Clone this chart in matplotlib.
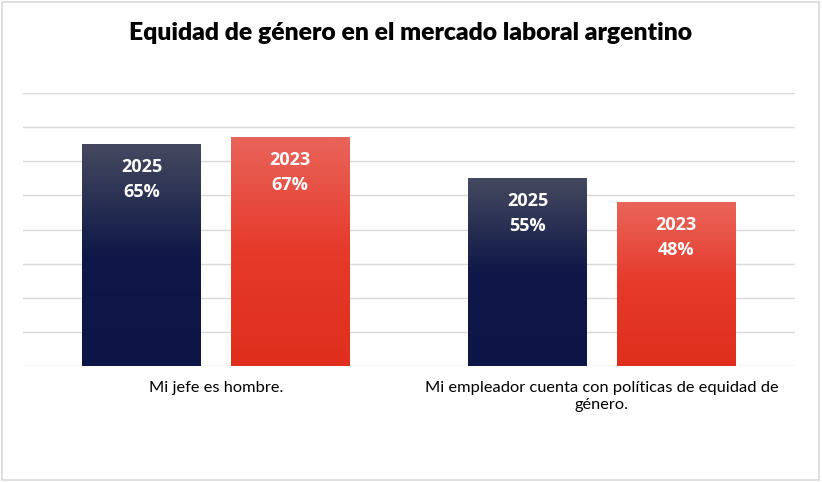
import numpy as np
import matplotlib.pyplot as plt
from matplotlib.colors import LinearSegmentedColormap
from matplotlib.patches import Rectangle

OUTPUT_FILE = "out.png"

# data
categories = ["Mi jefe es hombre.",
              "Mi empleador cuenta con políticas de equidad de\ngénero."]
years = ["2025", "2023"]
values_2025 = [65, 55]
values_2023 = [67, 48]

NAVY_TOP, NAVY_BOTTOM = "#45495f", "#0c1545"
RED_TOP, RED_BOTTOM = "#e9645a", "#df2e1c"

plt.rcParams["font.family"] = ["Lato", "DejaVu Sans"]


def gradient_bar(ax, bar, top_color, bottom_color, mid_color):
    """Fill a bar with a vertical gradient, clipped to the bar shape."""
    x0, y0 = bar.get_x(), bar.get_y()
    w, h = bar.get_width(), bar.get_height()
    cmap = LinearSegmentedColormap.from_list(
        "g", [(0.0, bottom_color), (0.5, mid_color), (1.0, top_color)])
    grad = np.linspace(0, 1, 256).reshape(-1, 1)
    img = ax.imshow(grad, extent=[x0, x0 + w, y0, y0 + h], origin="lower",
                    cmap=cmap, aspect="auto", zorder=3)
    img.set_clip_path(bar)
    bar.set_facecolor("none")


def main():
    fig = plt.figure(figsize=(8.22, 4.82), dpi=100)
    ax = fig.add_axes([0.028, 0.2407, 0.939, 0.5663])

    x = np.arange(len(categories))
    width = 0.308
    offset = 0.192

    bars_a = ax.bar(x - offset, values_2025, width, zorder=2, linewidth=0)
    bars_b = ax.bar(x + offset, values_2023, width, zorder=2, linewidth=0)

    for bar in bars_a:
        gradient_bar(ax, bar, NAVY_TOP, NAVY_BOTTOM, "#0f1848")
    for bar in bars_b:
        gradient_bar(ax, bar, RED_TOP, RED_BOTTOM, "#e63a2b")

    for bars, vals, year in [(bars_a, values_2025, years[0]),
                             (bars_b, values_2023, years[1])]:
        for bar, v in zip(bars, vals):
            ax.text(bar.get_x() + bar.get_width() / 2, v - 4.0,
                    f"{year}\n{v}%", ha="center", va="top", color="white",
                    fontsize=13, fontweight="bold", linespacing=1.5, zorder=4,
                    family=["Open Sans", "DejaVu Sans"])

    ax.set_xlim(-0.5, 1.5)
    ax.set_ylim(0, 80)
    ax.set_yticks(np.arange(0, 81, 10))
    ax.yaxis.grid(True, color="#d9d9d9", linewidth=1)
    ax.set_axisbelow(True)
    ax.tick_params(axis="y", left=False, labelleft=False)
    ax.tick_params(axis="x", bottom=False, pad=7)
    ax.set_xticks(x)
    ax.set_xticklabels(categories, fontsize=11.8, linespacing=1.35)
    for side in ["top", "right", "left", "bottom"]:
        ax.spines[side].set_visible(False)

    fig.text(0.5, 0.932, "Equidad de género en el mercado laboral argentino",
             ha="center", va="center", fontsize=17.8, fontweight="heavy")

    fig.patches.append(Rectangle((0.003, 0.005), 0.993, 0.99,
                                 transform=fig.transFigure, fill=False,
                                 edgecolor="#d9d9d9", linewidth=1.2))

    fig.savefig(OUTPUT_FILE, dpi=100)
    plt.close(fig)


if __name__ == "__main__":
    main()
